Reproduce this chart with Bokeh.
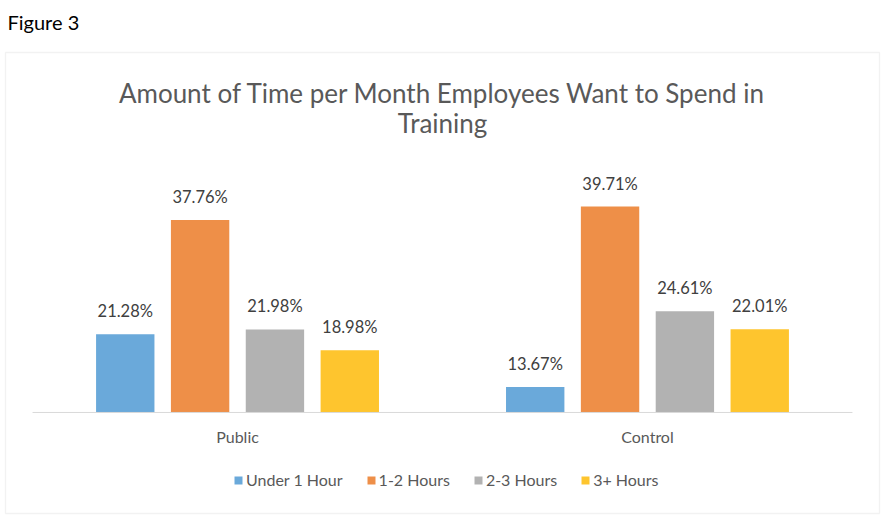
from bokeh.plotting import figure
from bokeh.models import FactorRange, Range1d, ColumnDataSource, Label, BoxAnnotation
from bokeh.core.properties import value
from bokeh.embed import file_html
from bokeh.resources import INLINE

# ---- data ----
groups = ["Public", "Control"]
series = ["Under 1 Hour", "1-2 Hours", "2-3 Hours", "3+ Hours"]
public_vals = [21.28, 37.76, 21.98, 18.98]
control_vals = [13.67, 39.71, 24.61, 22.01]
colors = ["#6AA9DA", "#EE8F48", "#B2B2B2", "#FEC52E"]
axis_min = 10
fig_label = "Figure 3"
title_lines = ["Amount of Time per Month Employees Want to Spend in", "Training"]

FONT = "Lato"
group_padding = 1.4775

x_range = FactorRange(
    factors=[(g, s) for g in groups for s in series],
    group_padding=group_padding,
    range_padding=1.167,
    range_padding_units="absolute",
)
# baseline at value 10, ~6.93 px per unit
y_range = Range1d(-5.30, 69.45)

W, H = 884, 518
p = figure(
    width=W, height=H,
    x_range=x_range, y_range=y_range,
    x_axis_location=None, y_axis_location=None,
    toolbar_location=None, tools="",
    output_backend="svg",
    min_border=0,
)
p.title.visible = False
p.grid.visible = False
p.outline_line_color = None
p.background_fill_color = "white"
p.border_fill_color = "white"

# border box around the chart area (screen px, frame = whole canvas)
p.add_layout(BoxAnnotation(left=5, right=879, bottom=5, top=466,
                           left_units="screen", right_units="screen",
                           bottom_units="screen", top_units="screen",
                           fill_alpha=0, line_color="#D4D4D4", line_width=1.3))

# "Figure 3" caption above the bordered chart area
p.add_layout(Label(x=7, y=497, x_units="screen", y_units="screen",
                   text=fig_label, text_align="left", text_baseline="alphabetic",
                   text_font=FONT, text_font_size="20px", text_color="black"))

vals_by_group = {"Public": public_vals, "Control": control_vals}

for i, s in enumerate(series):
    xs = [(g, s) for g in groups]
    tops = [vals_by_group[g][i] for g in groups]
    src = ColumnDataSource(dict(x=xs, top=tops,
                                label=[f"{v:.2f}%" for v in tops]))
    p.vbar(x="x", top="top", bottom=axis_min, width=0.78, source=src,
           fill_color=colors[i], line_color=None, legend_label=s)
    p.text(x="x", y="top", text="label", source=src,
           text_align="center", text_baseline="alphabetic", y_offset=-23,
           text_font=value(FONT), text_font_size="16.5px", text_color="#404040")

# baseline (category axis line) spanning the two category bands
n = len(series)
p.segment(x0=[-group_padding / 2], y0=[axis_min],
          x1=[len(groups) * n + (len(groups) - 1) * group_padding + group_padding / 2],
          y1=[axis_min], line_color="#D9D9D9", line_width=1)

# category labels
p.text(x=groups, y=[axis_min] * len(groups), text=groups,
       text_align="center", text_baseline="alphabetic", y_offset=24,
       text_font=value(FONT), text_font_size="16px", text_color="#595959")

# chart title (inside the bordered area)
title_y = [426, 395.5]
for j, line in enumerate(title_lines):
    p.add_layout(Label(x=442, y=title_y[j], x_units="screen", y_units="screen",
                       text=line, text_align="center", text_baseline="alphabetic",
                       text_font=FONT, text_font_size="26px", text_color="#595959"))

lg = p.legend[0]
lg.orientation = "horizontal"
lg.location = (233, 29)
lg.margin = 0
lg.padding = 0
lg.spacing = 23
lg.label_standoff = 3
lg.glyph_width = 10
lg.glyph_height = 10
lg.border_line_color = None
lg.background_fill_alpha = 0
lg.label_text_font = FONT
lg.label_text_font_size = "16px"
lg.label_text_color = "#595959"

open("out.html", "w").write(file_html(p, INLINE))
